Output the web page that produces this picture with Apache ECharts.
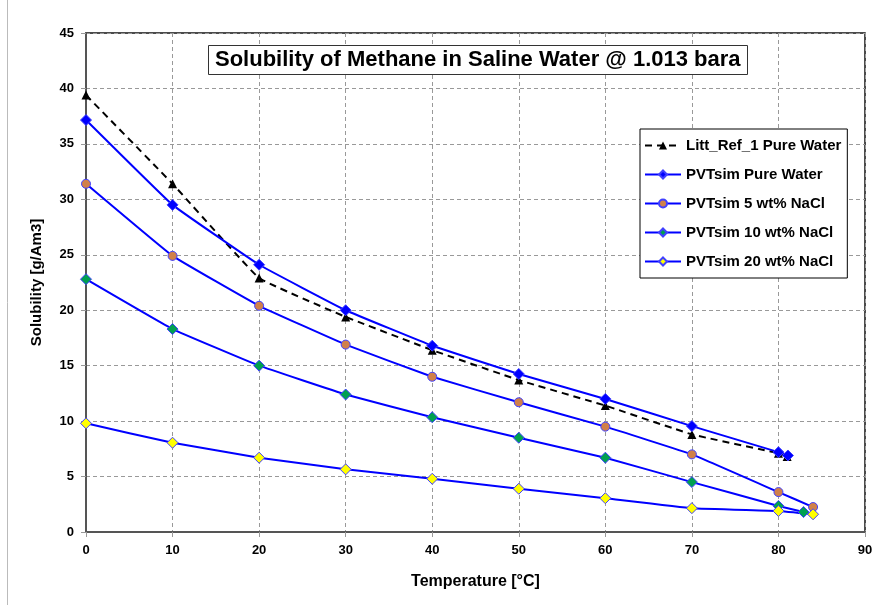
<!DOCTYPE html>
<html>
<head>
<meta charset="utf-8">
<script src="https://cdn.jsdelivr.net/npm/echarts@6/dist/echarts.min.js"></script>
<style>
  html, body { margin: 0; padding: 0; background: #fff; }
  #chart { width: 895px; height: 605px; }
</style>
</head>
<body>
<div id="chart"></div>
<script>
// temperatures (deg C) and solubility values (g/Am3)
var tempStd = [0, 10, 20, 30, 40, 50, 60, 70, 80];
var littTemp = [0, 10, 20, 30, 40, 50, 60, 70, 80, 81];
var littPure = [39.4, 31.4, 22.9, 19.4, 16.4, 13.7, 11.4, 8.8, 7.1, 6.8];
var pureTemp = tempStd.concat([81.1]);
var pureWater = [37.15, 29.5, 24.1, 20.0, 16.8, 14.25, 12.0, 9.55, 7.2, 6.9];
var nacl5Temp = tempStd.concat([84]);
var nacl5 = [31.4, 24.9, 20.4, 16.9, 14.0, 11.7, 9.5, 7.0, 3.6, 2.25];
var nacl10Temp = tempStd.concat([82.9]);
var nacl10 = [22.8, 18.3, 15.0, 12.4, 10.35, 8.5, 6.7, 4.5, 2.35, 1.8];
var nacl20Temp = tempStd.concat([84]);
var nacl20 = [9.8, 8.05, 6.7, 5.65, 4.8, 3.9, 3.05, 2.15, 1.9, 1.6];

var names = [
  "Litt_Ref_1 Pure Water",
  "PVTsim Pure Water",
  "PVTsim 5 wt% NaCl",
  "PVTsim 10 wt% NaCl",
  "PVTsim 20 wt% NaCl"
];

function pairs(xs, ys) {
  return xs.map(function (x, i) { return [x, ys[i]]; });
}

var fontFam = "Liberation Sans";
var myChart = echarts.init(document.getElementById("chart"));

function pvtSeries(name, xs, ys, symbol, size, fill) {
  return {
    name: name,
    type: "line",
    data: pairs(xs, ys),
    smooth: 0.08,
    symbol: symbol,
    symbolSize: size,
    lineStyle: { color: "#0000ff", width: 2 },
    itemStyle: { color: fill, borderColor: "#4040ff", borderWidth: 1 },
    z: 3
  };
}

var option = {
  backgroundColor: "#fff",
  animation: false,
  title: {
    text: "Solubility of Methane in Saline Water @ 1.013 bara",
    left: 208,
    top: 45,
    padding: [4, 7],
    borderColor: "#333",
    borderWidth: 1,
    backgroundColor: "#fff",
    textStyle: { fontFamily: fontFam, fontSize: 22, fontWeight: "bold", color: "#000" }
  },
  legend: {
    data: names,
    orient: "vertical",
    left: 640,
    top: 129,
    padding: [9, 6, 9, 4],
    itemWidth: 36,
    itemHeight: 10,
    itemGap: 14,
    borderColor: "#000",
    borderWidth: 1,
    backgroundColor: "#fff",
    textStyle: { fontFamily: fontFam, fontSize: 15, fontWeight: "bold", color: "#000" }
  },
  grid: {
    left: 86,
    right: 30,
    top: 33,
    bottom: 73,
    show: true,
    borderColor: "#111",
    borderWidth: 1.5
  },
  xAxis: {
    type: "value",
    min: 0,
    max: 90,
    interval: 10,
    name: "Temperature [°C]",
    nameLocation: "middle",
    nameGap: 42,
    nameTextStyle: { fontFamily: fontFam, fontSize: 16, fontWeight: "bold", color: "#000" },
    axisLine: { lineStyle: { color: "#555", width: 2 } },
    axisTick: { show: true, length: 5, lineStyle: { color: "#999" } },
    axisLabel: { fontFamily: fontFam, fontSize: 13, fontWeight: "bold", color: "#000", margin: 12 },
    splitLine: { lineStyle: { color: "#999", type: [4, 3] } }
  },
  yAxis: {
    type: "value",
    min: 0,
    max: 45,
    interval: 5,
    name: "Solubility [g/Am3]",
    nameLocation: "middle",
    nameGap: 42,
    nameTextStyle: { fontFamily: fontFam, fontSize: 15, fontWeight: "bold", color: "#000" },
    axisLine: { show: true, lineStyle: { color: "#555", width: 2 } },
    axisTick: { show: true, length: 5, lineStyle: { color: "#999" } },
    axisLabel: { fontFamily: fontFam, fontSize: 13, fontWeight: "bold", color: "#000", margin: 12 },
    splitLine: { lineStyle: { color: "#999", type: [4, 3] } }
  },
  graphic: [
    {
      type: "line",
      shape: { x1: 7.5, y1: 0, x2: 7.5, y2: 605 },
      style: { stroke: "#bbb", lineWidth: 1 }
    }
  ],
  series: [
    {
      name: names[0],
      type: "line",
      data: pairs(littTemp, littPure),
      smooth: 0.08,
      symbol: "triangle",
      symbolSize: 9,
      lineStyle: { color: "#000", width: 2, type: [7, 5] },
      itemStyle: { color: "#000" },
      z: 2
    },
    pvtSeries(names[1], pureTemp, pureWater, "diamond", 11, "#0000ff"),
    pvtSeries(names[2], nacl5Temp, nacl5, "circle", 9, "#d0804a"),
    pvtSeries(names[3], nacl10Temp, nacl10, "diamond", 11, "#00a050"),
    pvtSeries(names[4], nacl20Temp, nacl20, "diamond", 11, "#ffff00")
  ]
};

myChart.setOption(option);
window.addEventListener("resize", function () {
  myChart.resize();
});
</script>
</body>
</html>
